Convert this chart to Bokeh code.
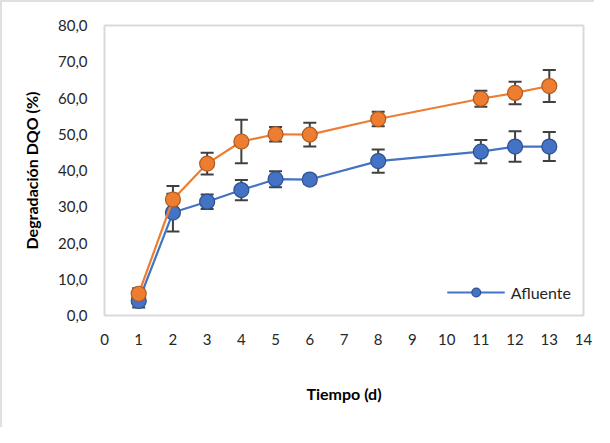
from bokeh.plotting import figure
from bokeh.models import ColumnDataSource, Whisker, TeeHead, Legend, LegendItem, FixedTicker, Range1d
from bokeh.embed import file_html
from bokeh.resources import INLINE

days = [1, 2, 3, 4, 5, 6, 8, 11, 12, 13]
afluente = [4.0, 28.4, 31.4, 34.6, 37.6, 37.5, 42.6, 45.2, 46.6, 46.6]
afluente_err = [1.8, 5.2, 2.0, 2.8, 2.2, 1.2, 3.2, 3.2, 4.2, 4.0]
serie2 = [6.0, 32.0, 41.9, 48.0, 50.0, 49.9, 54.2, 59.8, 61.4, 63.3]
serie2_err = [1.5, 3.7, 3.0, 6.0, 2.0, 3.3, 2.0, 2.2, 3.1, 4.4]

x_ticks = list(range(0, 15))
y_ticks = [0, 10, 20, 30, 40, 50, 60, 70, 80]
y_tick_labels = {v: f"{v},0" for v in y_ticks}

FONT = "Lato"
BLUE = "#4472C4"
ORANGE = "#ED7D31"
ERR = "#404040"
BLUE_EDGE = "#2F528F"
ORANGE_EDGE = "#B05A1E"

p = figure(width=594, height=427, output_backend="svg", toolbar_location=None,
           x_range=Range1d(0, 14), y_range=Range1d(0, 80))
p.min_border_left = 102
p.min_border_top = 23
p.min_border_right = 13
p.min_border_bottom = 114
p.outline_line_color = "#d9d9d9"
p.outline_line_width = 2
p.xgrid.visible = False
p.ygrid.visible = False
p.styles = {"border-left": "2px solid #e0e0e0", "border-top": "2px solid #e0e0e0"}

p.xaxis.ticker = FixedTicker(ticks=x_ticks)
p.yaxis.ticker = FixedTicker(ticks=y_ticks)
p.yaxis.major_label_overrides = y_tick_labels
for ax in (p.xaxis[0], p.yaxis[0]):
    ax.axis_line_color = None
    ax.major_tick_line_color = None
    ax.minor_tick_line_color = None
    ax.major_label_text_font = FONT
    ax.major_label_text_font_size = "15px"
    ax.major_label_text_color = "#262626"
    ax.axis_label_text_font = FONT
    ax.axis_label_text_font_size = "16px"
    ax.axis_label_text_font_style = "bold"
    ax.axis_label_text_color = "#000000"
p.xaxis.axis_label = "Tiempo (d)"
p.yaxis.axis_label = "Degradación DQO (%)"
p.xaxis.major_label_standoff = 12
p.yaxis.major_label_standoff = 11
p.xaxis.axis_label_standoff = 36
p.yaxis.axis_label_standoff = 14

def add_series(vals, errs, color, edge):
    src = ColumnDataSource(dict(x=days, y=vals,
                                lo=[v - e for v, e in zip(vals, errs)],
                                hi=[v + e for v, e in zip(vals, errs)]))
    w = Whisker(source=src, base="x", upper="hi", lower="lo",
                line_color=ERR, line_width=2,
                upper_head=TeeHead(size=13, line_color=ERR, line_width=2),
                lower_head=TeeHead(size=13, line_color=ERR, line_width=2))
    p.add_layout(w)
    ln = p.line("x", "y", source=src, line_color=color, line_width=2.2)
    sc = p.scatter("x", "y", source=src, size=15, fill_color=color, line_color=edge, line_width=1.2)
    return ln, sc

b_ln, b_sc = add_series(afluente, afluente_err, BLUE, BLUE_EDGE)
add_series(serie2, serie2_err, ORANGE, ORANGE_EDGE)

legend = Legend(items=[LegendItem(label="Afluente", renderers=[b_ln, b_sc])],
                location="bottom_right", border_line_color=None, background_fill_alpha=0,
                label_text_font=FONT, label_text_font_size="16px", label_text_color="#262626",
                glyph_width=58, glyph_height=22, label_standoff=6, padding=4, margin=12)
p.add_layout(legend, "center")

open("out.html", "w").write(file_html(p, INLINE))
